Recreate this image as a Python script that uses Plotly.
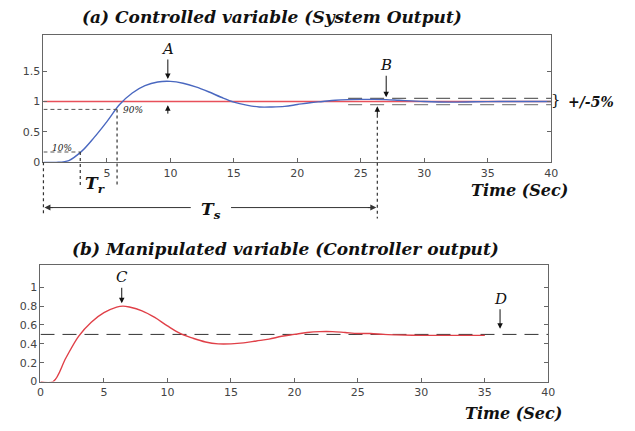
import plotly.graph_objects as go

# ---------------- data ----------------
t_out = [0, 1, 2, 3, 4, 5, 6, 7, 8, 9, 10, 11, 12, 13, 14, 15, 16, 17, 18, 19, 20,
         21, 22, 23, 24, 25, 26, 27, 28, 29, 30, 32, 34, 36, 38, 40]
y_out = [0, 0, 0.03, 0.18, 0.41, 0.67, 0.95, 1.14, 1.26, 1.32, 1.33, 1.30, 1.24, 1.16,
         1.07, 0.99, 0.94, 0.91, 0.91, 0.92, 0.95, 0.98, 1.0, 1.02, 1.03, 1.035, 1.035,
         1.03, 1.02, 1.01, 1.0, 0.99, 0.995, 1.0, 1.0, 1.0]

t_sp = [0, 40]
y_sp = [1, 1]

t_band = [24, 40]
band_hi = [1.05, 1.05]
band_lo = [0.95, 0.95]

t_u = [0, 1, 2, 3, 4, 5, 6, 6.5, 7, 8, 9, 10, 11, 12, 13, 14, 15, 16, 17, 18, 19, 20,
       21, 22, 23, 24, 25, 26, 27, 28, 30, 32, 35]
y_u = [0, 0, 0.25, 0.48, 0.63, 0.73, 0.79, 0.80, 0.79, 0.75, 0.68, 0.59, 0.51, 0.46,
       0.42, 0.40, 0.40, 0.41, 0.43, 0.45, 0.48, 0.50, 0.52, 0.53, 0.53, 0.52, 0.51,
       0.51, 0.50, 0.495, 0.49, 0.49, 0.49]

t_uss = [0, 40]
y_uss = [0.5, 0.5]

top_xticks = [5, 10, 15, 20, 25, 30, 35, 40]
top_yticks = [0, 0.5, 1, 1.5]
bot_xticks = [0, 5, 10, 15, 20, 25, 30, 35, 40]
bot_yticks = [0, 0.2, 0.4, 0.6, 0.8, 1]

lvl10, t10 = 0.17, 2.9
lvl90, t90 = 0.87, 5.8
t_peak, y_peak = 9.8, 1.33
t_settle = 26.3
t_upeak, y_upeak = 6.4, 0.80
t_D = 36.2

# ---------------- layout helpers ----------------
OFF = 8  # page body margin
W, H = 635 - 2 * OFF, 431 - 2 * OFF


def px(x):
    return (x - OFF) / W


def py(y):
    return 1 - (y - OFF) / H


TXD = [px(40), px(557)]
TYD = [py(165), py(35)]
TYR = [0, 2.1]
BXD = [px(37), px(554)]
BYD = [py(388), py(269)]
BYR = [0, 1.24]


def tx(t):
    return TXD[0] + t / 40 * (TXD[1] - TXD[0])


def ty(v):
    return TYD[0] + (v - TYR[0]) / (TYR[1] - TYR[0]) * (TYD[1] - TYD[0])


SERIF = "DejaVu Serif"
TICKF = dict(family="DejaVu Sans", size=11, color="#444")
AX = "#666"

fig = go.Figure()

fig.add_trace(go.Scatter(x=t_sp, y=y_sp, mode="lines", line=dict(color="#e8505a", width=1.6),
                         xaxis="x", yaxis="y", showlegend=False))
fig.add_trace(go.Scatter(x=t_band, y=band_hi, mode="lines",
                         line=dict(color="#666", width=1.3, dash="14px,8px"),
                         xaxis="x", yaxis="y", showlegend=False))
fig.add_trace(go.Scatter(x=t_band, y=band_lo, mode="lines",
                         line=dict(color="#888", width=1.3, dash="14px,8px"),
                         xaxis="x", yaxis="y", showlegend=False))
fig.add_trace(go.Scatter(x=t_out, y=y_out, mode="lines", line=dict(color="#4a68c0", width=1.4, shape="spline"),
                         xaxis="x", yaxis="y", showlegend=False))

fig.add_trace(go.Scatter(x=t_uss, y=y_uss, mode="lines",
                         line=dict(color="#333", width=1, dash="14px,8px"),
                         xaxis="x2", yaxis="y2", showlegend=False))
fig.add_trace(go.Scatter(x=t_u, y=y_u, mode="lines", line=dict(color="#e04048", width=1.4, shape="spline"),
                         xaxis="x2", yaxis="y2", showlegend=False))

axis_common = dict(showgrid=False, zeroline=False, showline=True, linecolor=AX, linewidth=1,
                   ticks="inside", ticklen=4, tickcolor=AX, tickfont=TICKF)

fig.update_layout(
    width=W, height=H, margin=dict(l=0, r=0, t=0, b=0),
    paper_bgcolor="white", plot_bgcolor="white",
    xaxis=dict(domain=TXD, range=[0, 40], anchor="y", tickvals=top_xticks, mirror=True, **axis_common),
    yaxis=dict(domain=TYD, range=TYR, anchor="x", tickvals=top_yticks, mirror="ticks", **axis_common),
    xaxis2=dict(domain=BXD, range=[0, 40], anchor="y2", tickvals=bot_xticks, mirror=True, **axis_common),
    yaxis2=dict(domain=BYD, range=BYR, anchor="x2", tickvals=bot_yticks, mirror="ticks", **axis_common),
)

shapes = []
dot = dict(color="#333", width=1.2, dash="dot")
dash = dict(color="#555", width=1, dash="4px,3px")
shapes.append(dict(type="line", xref="x", yref="y", x0=0, x1=t10, y0=lvl10, y1=lvl10, line=dash))
shapes.append(dict(type="line", xref="x", yref="y", x0=0, x1=t90, y0=lvl90, y1=lvl90, line=dash))
shapes.append(dict(type="line", xref="paper", yref="paper", x0=tx(t10), x1=tx(t10), y0=ty(lvl10), y1=py(190), line=dot))
shapes.append(dict(type="line", xref="paper", yref="paper", x0=tx(t90), x1=tx(t90), y0=ty(lvl90), y1=py(190), line=dot))
shapes.append(dict(type="line", xref="paper", yref="paper", x0=tx(0), x1=tx(0), y0=ty(0), y1=py(218), line=dot))
shapes.append(dict(type="line", xref="paper", yref="paper", x0=tx(t_settle), x1=tx(t_settle), y0=ty(0.88), y1=py(222), line=dot))
ts_y = py(211)
shapes.append(dict(type="line", xref="paper", yref="paper", x0=tx(0) + 6 / W, x1=px(190), y0=ts_y, y1=ts_y,
                   line=dict(color="#333", width=1)))
shapes.append(dict(type="line", xref="paper", yref="paper", x0=px(231), x1=tx(t_settle) - 6 / W, y0=ts_y, y1=ts_y,
                   line=dict(color="#333", width=1)))
fig.update_layout(shapes=shapes)

ann = []


def label(x, y, text, font):
    ann.append(dict(xref="paper", yref="paper", x=px(x), y=py(y), text=text, showarrow=False,
                    xanchor="center", yanchor="middle", font=font))


title_font = dict(family=SERIF, size=17, color="#111", style="italic", weight="bold")
label(273, 17, "(a) Controlled variable (System Output)", title_font)
label(286, 253, "(b) Manipulated variable (Controller output)", title_font)
tl_font = dict(family=SERIF, size=16, color="#111", style="italic", weight="bold")
label(525, 194, "Time (Sec)", tl_font)
label(519, 420, "Time (Sec)", tl_font)

lab_font = dict(family=SERIF, size=15, color="#111", style="italic")
arrow = dict(showarrow=True, arrowhead=2, arrowsize=1.1, arrowwidth=1, arrowcolor="#111", standoff=0, ax=0)
ann.append(dict(xref="x", yref="y", x=t_peak, y=y_peak + 0.04, text="A", ay=-30, font=lab_font, **arrow))
ann.append(dict(xref="x", yref="y", x=t_peak, y=0.94, text="", ay=10, **arrow))
ann.append(dict(xref="x", yref="y", x=27.0, y=1.07, text="B", ay=-32, font=lab_font, **arrow))
ann.append(dict(xref="x", yref="y", x=t_settle, y=0.92, text="", ay=10, **arrow))
ann.append(dict(xref="x2", yref="y2", x=t_upeak, y=y_upeak + 0.03, text="C", ay=-26, font=lab_font, **arrow))
ann.append(dict(xref="x2", yref="y2", x=t_D, y=0.56, text="D", ay=-30, font=lab_font, **arrow))

small_font = dict(family=SERIF, size=9, color="#222", style="italic")
label(59, 150, "10%", small_font)
label(131, 112, "90%", small_font)

big_font = dict(family=SERIF, size=17, color="#111", style="italic", weight="bold")
label(93, 188, "T<sub>r</sub>", big_font)
label(211, 214, "T<sub>s</sub>", big_font)

ann.append(dict(xref="paper", yref="paper", x=tx(0) + 1 / W, y=ts_y, ax=10, ay=0, text="",
                showarrow=True, arrowhead=2, arrowsize=1.2, arrowwidth=1, arrowcolor="#333", standoff=0))
ann.append(dict(xref="paper", yref="paper", x=tx(t_settle) - 1 / W, y=ts_y, ax=-10, ay=0, text="",
                showarrow=True, arrowhead=2, arrowsize=1.2, arrowwidth=1, arrowcolor="#333", standoff=0))

label(562, 102, "}", dict(family=SERIF, size=15, color="#111"))
label(597, 104, "+/-5%", dict(family=SERIF, size=14, color="#111", style="italic", weight="bold"))

fig.update_layout(annotations=ann)

fig.write_html("out.html")
